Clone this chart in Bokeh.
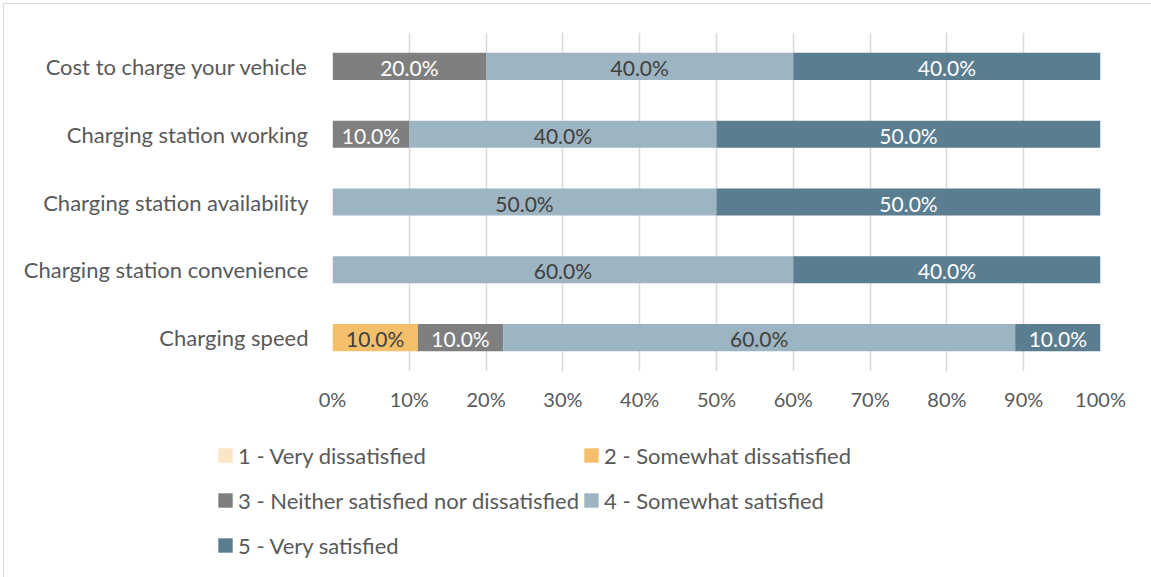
import numpy as np
from bokeh.plotting import figure
from bokeh.layouts import column
from bokeh.models import ColumnDataSource, Legend, LegendItem, FactorRange, NumeralTickFormatter, FixedTicker
from bokeh.core.properties import value
from bokeh.embed import file_html
from bokeh.resources import INLINE

categories = ["Charging speed", "Charging station convenience", "Charging station availability",
              "Charging station working", "Cost to charge your vehicle"]
series_names = ["1 - Very dissatisfied", "2 - Somewhat dissatisfied",
                "3 - Neither satisfied nor dissatisfied", "4 - Somewhat satisfied", "5 - Very satisfied"]
very_dissatisfied = [0, 0, 0, 0, 0]
somewhat_dissatisfied = [10, 0, 0, 0, 0]
neither = [10, 0, 0, 10, 20]
somewhat_satisfied = [60, 60, 50, 40, 40]
very_satisfied = [10, 40, 50, 50, 40]
x_ticks = [0, 0.1, 0.2, 0.3, 0.4, 0.5, 0.6, 0.7, 0.8, 0.9, 1.0]

colors = ["#FBE5C4", "#F4BF6A", "#7F7F7F", "#9DB4C2", "#5B7D90"]
label_colors = ["#404040", "#404040", "#FFFFFF", "#404040", "#FFFFFF"]
FONT = "Lato"
TEXT_GRAY = "#595959"

raw = np.array([very_dissatisfied, somewhat_dissatisfied, neither, somewhat_satisfied, very_satisfied], dtype=float)
totals = raw.sum(axis=0)
norm = raw / totals

keys = ["s1", "s2", "s3", "s4", "s5"]
data = {"cat": categories}
for k, row in zip(keys, norm):
    data[k] = list(row)
source = ColumnDataSource(data)

W = 1147
H1 = 416
H2 = 157

p = figure(y_range=FactorRange(*categories), x_range=(0, 1), width=W, height=H1,
           output_backend="svg", toolbar_location=None,
           min_border_left=328, min_border_right=51, min_border_top=28, min_border_bottom=49)
p.outline_line_color = None

renderers = p.hbar_stack(keys, y="cat", height=0.4, color=colors, source=source, line_color=None)

# segment labels
lx, ly, lt, lc = [], [], [], []
for i, cat in enumerate(categories):
    left = 0.0
    for j in range(len(keys)):
        w = norm[j, i]
        if raw[j, i] > 0:
            lx.append(left + w / 2)
            ly.append(cat)
            lt.append(f"{raw[j, i]:.1f}%")
            lc.append(label_colors[j])
        left += w
lsrc = ColumnDataSource(dict(x=lx, y=ly, t=lt, c=lc))
p.text(x="x", y="y", text="t", text_color="c", source=lsrc, text_align="center",
       text_baseline="middle", text_font=value(FONT), text_font_size="21px", y_offset=1)

p.xgrid.grid_line_color = "#D9D9D9"
p.xgrid.grid_line_width = 1.5
p.ygrid.grid_line_color = None
p.xaxis.ticker = FixedTicker(ticks=x_ticks)
p.xaxis.formatter = NumeralTickFormatter(format="0%")
for ax in (p.xaxis[0], p.yaxis[0]):
    ax.axis_line_color = None
    ax.major_tick_line_color = None
    ax.minor_tick_line_color = None
    ax.major_label_text_color = TEXT_GRAY
    ax.major_label_text_font = FONT
p.xaxis.major_label_text_font_size = "20px"
p.yaxis.major_label_text_font_size = "22px"
p.xaxis.major_label_standoff = 9
p.yaxis.major_label_standoff = 18
p.y_range.range_padding = 0
p.y_range.factor_padding = 0

# legend panel
q = figure(width=W, height=H2, x_range=(0, W), y_range=(0, H2), output_backend="svg",
           toolbar_location=None, min_border=0)
q.frame_align = False
q.axis.visible = False
q.grid.visible = False
q.outline_line_color = None
# off-screen stand-ins that only carry the legend swatch styles
legend_renderers = [q.hbar(y=[-50], right=[0], height=1, color=c, line_color=None) for c in colors]

item_h = 30
rows_y = [122, 77, 32]          # item centers, px from the panel bottom
cols_x = [212, 578]             # swatch box left edges, px from the panel left
positions = [(0, 0), (1, 0), (0, 1), (1, 1), (0, 2)]
for i, (ci, ri) in enumerate(positions):
    lg = Legend(items=[LegendItem(label=series_names[i], renderers=[legend_renderers[i]])],
                location=(cols_x[ci], rows_y[ri] - item_h // 2),
                label_text_font=FONT, label_text_font_size="22px", label_text_color=TEXT_GRAY,
                glyph_width=18, glyph_height=18, label_standoff=4, label_height=item_h,
                padding=0, margin=0, border_line_color=None, background_fill_alpha=0)
    q.add_layout(lg, "center")

layout = column(p, q, spacing=0,
                styles={"border-left": "1px solid #D9D9D9", "border-top": "1px solid #D9D9D9",
                        "margin-left": "3px", "margin-top": "3px"})

open("out.html", "w").write(file_html(layout, INLINE))
